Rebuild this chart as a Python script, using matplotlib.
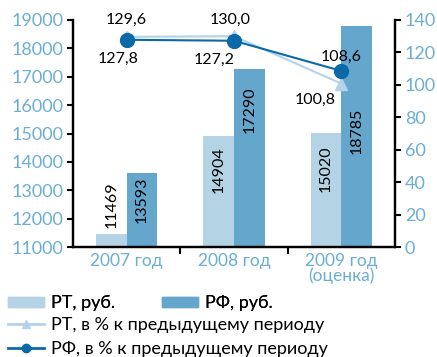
import matplotlib
matplotlib.use("Agg")
import matplotlib.pyplot as plt
import numpy as np
from matplotlib.patches import Patch
from matplotlib.lines import Line2D

plt.rcParams['font.family'] = ['Lato', 'DejaVu Sans']

categories = ["2007 год", "2008 год", "2009 год\n(оценка)"]
rt_rub = [11469, 14904, 15020]
rf_rub = [13593, 17290, 18785]
rt_pct = [129.6, 130.0, 100.8]
rf_pct = [127.8, 127.2, 108.6]

c_rt_bar = "#b4d4e6"
c_rf_bar = "#65a6cd"
c_tick = "#6aaed6"
c_rf_line = "#0b69a8"
c_rt_line = "#b4d3ea"

fig = plt.figure(figsize=(4.37, 3.57), dpi=100)
ax = fig.add_axes([73/437, 1-247/357, (395-73)/437, (247-20)/357])
ax2 = ax.twinx()

x = np.arange(len(categories))
w = 0.285
ax.bar(x - w/2, [v - 11000 for v in rt_rub], w, bottom=11000, color=c_rt_bar, zorder=2)
ax.bar(x + w/2, [v - 11000 for v in rf_rub], w, bottom=11000, color=c_rf_bar, zorder=2)

ax.set_xlim(-0.5, 2.5)
ax.set_ylim(11000, 19000)
ax.set_yticks(range(11000, 19001, 1000))
ax2.set_ylim(0, 140)
ax2.set_yticks(range(0, 141, 20))

# rotated value labels on the bars (offsets in points from the bar top)
lbl_fs = 11.5
rt_lbl_off = [4, -7, -9]
rf_lbl_off = [-2, -13, -59]
for i, v in enumerate(rt_rub):
    off = rt_lbl_off[i]
    ax.annotate(f"{v}", (x[i] - w/2, v), xytext=(0, off), textcoords='offset points',
                rotation=90, ha='center', va='bottom' if off > 0 else 'top',
                fontsize=lbl_fs, color='black', zorder=3)
for i, v in enumerate(rf_rub):
    ax.annotate(f"{v}", (x[i] + w/2, v), xytext=(0, rf_lbl_off[i]), textcoords='offset points',
                rotation=90, ha='center', va='top', fontsize=lbl_fs, color='black', zorder=3)

ax2.plot(x, rt_pct, color=c_rt_line, marker='^', markersize=9, lw=1.5, zorder=4)
ax2.plot(x, rf_pct, color=c_rf_line, marker='o', markersize=10, lw=1.5, zorder=5)

def fmt(v):
    return f"{v:.1f}".replace('.', ',')

rt_off = [(0, 12), (-3, 12), (-19, -12)]
rf_off = [(-6, -14), (-14, -14), (0, 10)]
for i in range(3):
    ax2.annotate(fmt(rt_pct[i]), (x[i], rt_pct[i]), xytext=rt_off[i], textcoords='offset points',
                 ha='center', va='center', fontsize=lbl_fs, color='black', zorder=6)
    ax2.annotate(fmt(rf_pct[i]), (x[i], rf_pct[i]), xytext=rf_off[i], textcoords='offset points',
                 ha='center', va='center', fontsize=lbl_fs, color='black', zorder=6)

ax.set_xticks(x)
ax.set_xticklabels(categories, color=c_tick, fontsize=12.5, linespacing=0.95)
ax.tick_params(axis='x', length=0, pad=4)
ax.set_xticks([0.5, 1.5], minor=True)
ax.tick_params(axis='x', which='minor', length=5, width=1.5, color='black', direction='out')
ax.tick_params(axis='y', colors=c_tick, labelsize=13, length=4, width=1.5, direction='out', pad=3)
ax.tick_params(axis='y', color='black')
ax2.tick_params(axis='y', colors=c_tick, labelsize=13, length=4, width=1.5, direction='out', pad=3)
ax2.tick_params(axis='y', color='black')

for a in (ax, ax2):
    a.spines['top'].set_visible(False)
    for s in ('left', 'right', 'bottom'):
        a.spines[s].set_linewidth(1.6)
        a.spines[s].set_color('black')

leg_fs = 13
h1 = [Patch(color=c_rt_bar), Patch(color=c_rf_bar)]
leg1 = fig.legend(h1, ["РТ, руб.", "РФ, руб."], ncol=2, loc='upper left',
                  bbox_to_anchor=(0.005, 1-290/357), frameon=False, fontsize=leg_fs,
                  handlelength=2.0, handleheight=0.55, columnspacing=2.6, handletextpad=0.4,
                  borderaxespad=0, borderpad=0.3)
h2 = [Line2D([], [], color=c_rt_line, marker='^', markersize=6, lw=2),
      Line2D([], [], color=c_rf_line, marker='o', markersize=6, lw=2)]
leg2 = fig.legend(h2, ["РТ, в % к предыдущему периоду", "РФ, в % к предыдущему периоду"],
                  loc='upper left', bbox_to_anchor=(0.005, 1-312/357), frameon=False,
                  fontsize=leg_fs, handlelength=2.0, handletextpad=0.4, labelspacing=0.42,
                  borderaxespad=0, borderpad=0.3)
fig.add_artist(leg1)

fig.savefig("out.png", dpi=100)
